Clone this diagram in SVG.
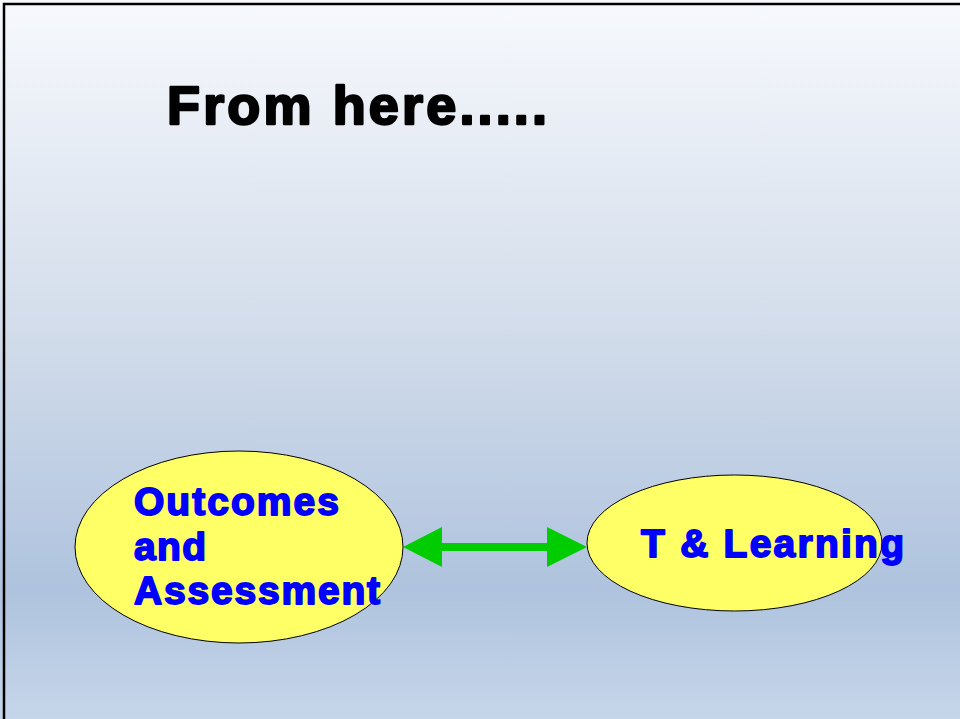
<svg xmlns="http://www.w3.org/2000/svg" width="960" height="719" viewBox="0 0 960 719">
<defs>
<linearGradient id="bg" x1="0" y1="0" x2="0" y2="1">
<stop offset="0" stop-color="#f7f9fd"/>
<stop offset="0.45" stop-color="#d3ddeb"/>
<stop offset="0.82" stop-color="#afc3de"/>
<stop offset="1" stop-color="#c6d6ea"/>
</linearGradient>
<style>
.node{fill:#ffff66;stroke:#000;stroke-width:1}
.arrow{fill:#00cc00;stroke:none}
.lbl{font-family:"Liberation Sans",Arial,sans-serif;font-weight:bold;font-size:39px;fill:#0000ff;stroke:#0000ff;stroke-width:1.8;stroke-linejoin:round}
.title{font-family:"Liberation Sans",Arial,sans-serif;font-weight:bold;font-size:54px;fill:#000;stroke:#000;stroke-width:2.4;stroke-linejoin:round}
</style>
</defs>
<rect x="0" y="0" width="960" height="719" fill="url(#bg)"/>
<path d="M4,719 V4 H960" fill="none" stroke="#000" stroke-width="2.5"/>
<text class="title" x="167" y="124" textLength="380" lengthAdjust="spacing">From here.....</text>
<g id="connectors">
<polygon class="arrow" points="403,547 442,527 442,543 547,543 547,527 587,547 547,567 547,551 442,551 442,567"/>
</g>
<g id="node-outcomes">
<ellipse class="node" cx="239" cy="547" rx="164" ry="96"/>
<text class="lbl" x="134" y="515" textLength="205" lengthAdjust="spacing">Outcomes</text>
<text class="lbl" x="134" y="560" textLength="72" lengthAdjust="spacing">and</text>
<text class="lbl" x="134" y="604" textLength="246" lengthAdjust="spacing">Assessment</text>
</g>
<g id="node-learning">
<ellipse class="node" cx="734.5" cy="543" rx="147.5" ry="68"/>
<text class="lbl" x="641" y="557" textLength="263" lengthAdjust="spacing">T &amp; Learning</text>
</g>
</svg>
